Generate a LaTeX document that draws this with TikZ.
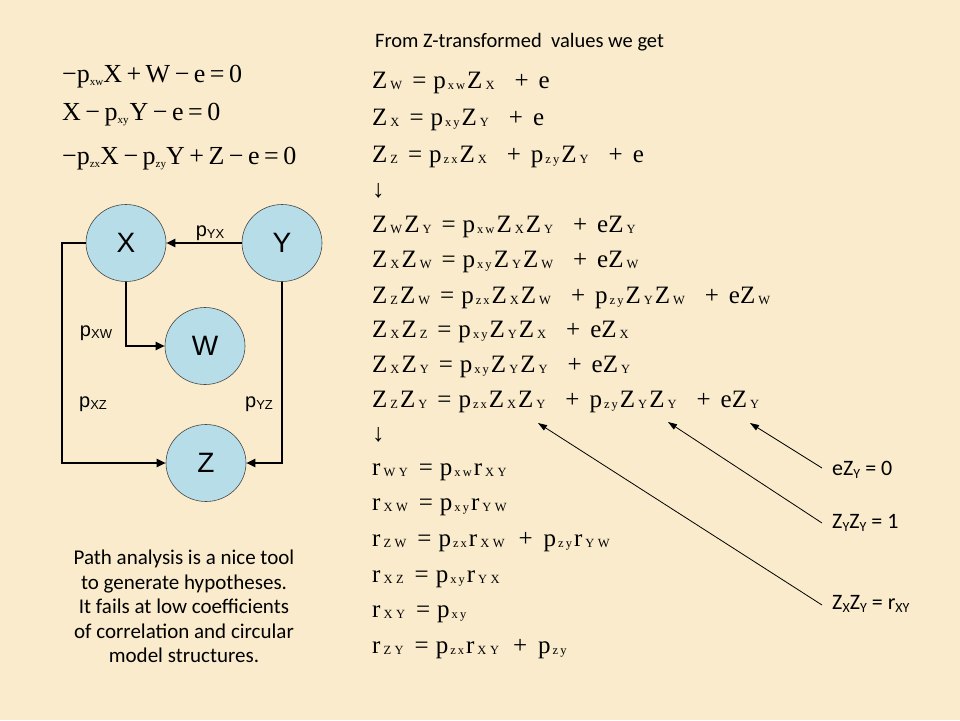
\documentclass[tikz,border=0pt]{standalone}
\usepackage{fontspec}
\setmainfont{Carlito}
\newfontfamily\tms{Liberation Serif}
\newfontfamily\ari{Liberation Sans}
\usetikzlibrary{shapes.geometric,arrows.meta}
\definecolor{parch}{RGB}{249,235,204}
\definecolor{circfill}{RGB}{183,221,232}
\definecolor{circdraw}{RGB}{70,70,70}
% right-column equation helpers
\newcommand\sbx[1]{\raisebox{-1.5pt}{\fontsize{12.5}{12.5}\selectfont #1}}
\newcommand\Zs[1]{Z\hspace{3pt}\sbx{#1}\hspace{2pt}}
\newcommand\pss[1]{p\hspace{2pt}\sbx{#1}\hspace{2pt}}
\newcommand\rss[2]{r\hspace{3pt}\sbx{#1\hspace{3.5pt}#2}\hspace{3pt}}
\newcommand\eqs{\hspace{8pt}=\hspace{7pt}}
\newcommand\pls{\hspace{18pt}+\hspace{10pt}}
\newcommand\plr{\hspace{11pt}+\hspace{11pt}}
% left-column helpers
\newcommand\lsb[1]{\raisebox{-3.5pt}{\fontsize{11}{11}\selectfont #1}}
\newcommand\lop[1]{\hspace{4.5pt}#1\hspace{4.5pt}}
% label subscripts
\newcommand\csb[1]{\raisebox{-3pt}{\fontsize{14}{14}\selectfont #1}}
\newcommand\asb[1]{\raisebox{-2pt}{\fontsize{13}{13}\selectfont #1}}
\tikzset{
  eqr/.style={anchor=base west,inner sep=0pt,font=\tms\fontsize{25}{25}\selectfont},
  eql/.style={anchor=base west,inner sep=0pt,font=\tms\fontsize{26}{26}\selectfont},
  circ/.style={ellipse,minimum width=80pt,minimum height=77pt,inner sep=0pt,fill=circfill,draw=circdraw,line width=0.6pt,font=\ari\fontsize{28}{28}\selectfont},
  conn/.style={line width=2pt,-{Triangle[length=9pt,width=8pt]}},
  plab/.style={inner sep=0pt,font=\ari\fontsize{20}{20}\selectfont},
  note/.style={anchor=west,inner sep=0pt,font=\fontsize{22}{22}\selectfont},
  thin arrow/.style={line width=0.8pt,-{Triangle[length=9pt,width=6pt]}},
}
\begin{document}
\begin{tikzpicture}[x=1pt,y=-1pt]
\fill[parch] (0,0) rectangle (960,720);
\useasboundingbox (0,0) rectangle (960,720);

% title
\node[anchor=base west,inner sep=0pt,font=\fontsize{20.5}{20.5}\selectfont] (title) at (375,47) {From Z-transformed\ \ values we get};

% left equations
\node[eql] (l1) at (62,82) {−p\lsb{xw}X\lop{+}W\lop{−}e\lop{=}0};
\node[eql] (l2) at (62,120) {X\lop{−}p\lsb{xy}\hspace{1pt}Y\lop{−}e\lop{=}0};
\node[eql] (l3) at (62,164) {−p\lsb{zx}X\lop{−}p\lsb{zy}Y\lop{+}Z\lop{−}e\lop{=}0};

% path diagram
\node[circ] (X) at (126,243) {X};
\node[circ] (Y) at (282,243) {Y};
\node[circ] (W) at (205,346) {W};
\node[circ] (Z) at (206,463) {Z};
\draw[conn] (Y.west) -- (X.east);
\draw[conn] (X.south) |- (W.west);
\draw[conn] (X.west) -- ++(-24,0) |- (Z.west);
\draw[conn] (Y.south) |- (Z.east);
\node[plab] (pyx) at (210,233) {p\asb{YX}};
\node[plab] (pxw) at (96,333) {p\asb{XW}};
\node[plab] (pxz) at (93,404) {p\asb{XZ}};
\node[plab] (pyz) at (259,404) {p\asb{YZ}};

% bottom-left note
\node[align=center,inner sep=0pt,font=\fontsize{21}{24.5}\selectfont,anchor=north] (txt) at (184,550)
 {Path analysis is a nice tool\\to generate hypotheses.\\It fails at low coefficients\\of correlation and circular\\model structures.};

% right equations
\node[eqr] (r1) at (372,88) {\Zs{W}\eqs\pss{x\,w}\Zs{X}\pls e};
\node[eqr] (r2) at (372,125) {\Zs{X}\eqs\pss{x\,y}\Zs{Y}\pls e};
\node[eqr] (r3) at (372,162) {\Zs{Z}\eqs\pss{z\,x}\Zs{X}\pls\pss{z\,y}\Zs{Y}\pls e};
\node[eqr] (a1) at (372,197) {↓};
\node[eqr] (r4) at (372,232) {\Zs{W}\Zs{Y}\eqs\pss{x\,w}\Zs{X}\Zs{Y}\pls e\Zs{Y}};
\node[eqr] (r5) at (372,267) {\Zs{X}\Zs{W}\eqs\pss{x\,y}\Zs{Y}\Zs{W}\pls e\Zs{W}};
\node[eqr] (r6) at (372,303) {\Zs{Z}\Zs{W}\eqs\pss{z\,x}\Zs{X}\Zs{W}\pls\pss{z\,y}\Zs{Y}\Zs{W}\pls e\Zs{W}};
\node[eqr] (r7) at (372,337) {\Zs{X}\Zs{Z}\eqs\pss{x\,y}\Zs{Y}\Zs{X}\pls e\Zs{X}};
\node[eqr] (r8) at (372,372) {\Zs{X}\Zs{Y}\eqs\pss{x\,y}\Zs{Y}\Zs{Y}\pls e\Zs{Y}};
\node[eqr] (r9) at (372,407) {\Zs{Z}\Zs{Y}\eqs\pss{z\,x}\Zs{X}\Zs{Y}\pls\pss{z\,y}\Zs{Y}\Zs{Y}\pls e\Zs{Y}};
\node[eqr] (a2) at (372,441) {↓};
\node[eqr] (s1) at (372,475) {\rss{W}{Y}\eqs\pss{x\,w}\rss{X}{Y}};
\node[eqr] (s2) at (372,510) {\rss{X}{W}\eqs\pss{x\,y}\rss{Y}{W}};
\node[eqr] (s3) at (372,546) {\rss{Z}{W}\eqs\pss{z\,x}\rss{X}{W}\plr\pss{z\,y}\rss{Y}{W}};
\node[eqr] (s4) at (372,582) {\rss{X}{Z}\eqs\pss{x\,y}\rss{Y}{X}};
\node[eqr] (s5) at (372,617) {\rss{X}{Y}\eqs\pss{x\,y}};
\node[eqr] (s6) at (372,653) {\rss{Z}{Y}\eqs\pss{z\,x}\rss{X}{Y}\plr\pss{z\,y}};

% side notes with arrows
\node[note] (n1) at (832,470) {eZ\csb{Y} = 0};
\node[note] (n2) at (832,523) {Z\csb{Y}Z\csb{Y} = 1};
\node[note] (n3) at (832,604) {Z\csb{X}Z\csb{Y} = r\csb{XY}};
\coordinate (t1) at (750,423);
\coordinate (t2) at (668,422);
\coordinate (t3) at (538,423);
\draw[thin arrow] ([xshift=-10pt,yshift=2pt]n1.west) -- (t1);
\draw[thin arrow] ([xshift=-10pt]n2.west) -- (t2);
\draw[thin arrow] ([xshift=-10pt,yshift=-1pt]n3.west) -- (t3);
\end{tikzpicture}
\end{document}
